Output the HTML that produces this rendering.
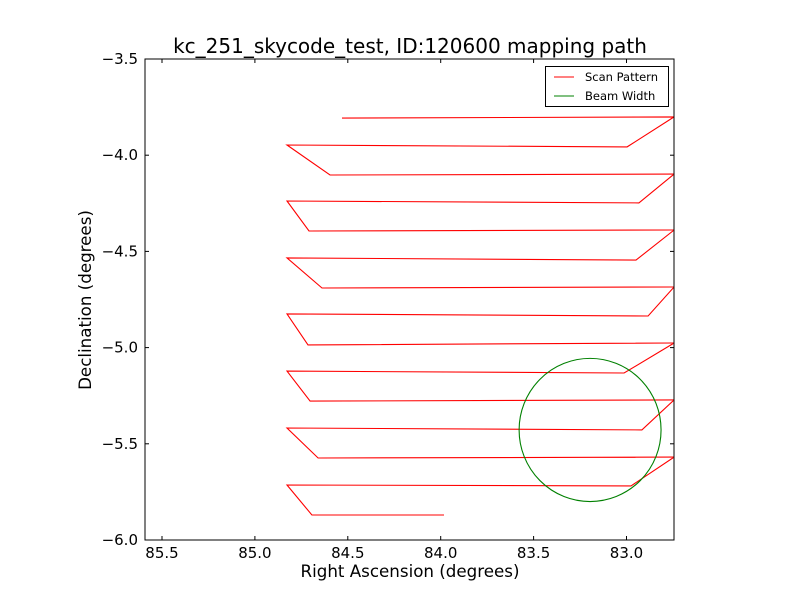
<!DOCTYPE html>
<html><head><meta charset="utf-8"><style>
body{margin:0;background:#fff;}
svg text{font-family:"DejaVu Sans","Liberation Sans",sans-serif;}
</style></head><body>
<svg id="chart" width="800" height="600" xmlns="http://www.w3.org/2000/svg">
<rect width="800" height="600" fill="#fff"/>
<text x="410" y="53" font-size="20" text-anchor="middle">kc_251_skycode_test, ID:120600 mapping path</text>
<text x="410" y="577" font-size="16.7" text-anchor="middle">Right Ascension (degrees)</text>
<text transform="translate(91,300) rotate(-90)" font-size="16.7" text-anchor="middle">Declination (degrees)</text>
<g id="plot"></g>
<rect x="145" y="59" width="529" height="481" fill="none" stroke="#000" stroke-width="1"/>
<g>
<rect x="545.5" y="66.5" width="123" height="40" fill="#fff" stroke="#000"/>
<line x1="554" y1="77" x2="574" y2="77" stroke="red"/>
<text x="585" y="81" font-size="11.5">Scan Pattern</text>
<line x1="554" y1="96" x2="574" y2="96" stroke="green"/>
<text x="585" y="100" font-size="11.5">Beam Width</text>
</g>
</svg>
<script>
const xTicks=[85.5,85.0,84.5,84.0,83.5,83.0];
const xTickLabels=["85.5","85.0","84.5","84.0","83.5","83.0"];
const yTicks=[-3.5,-4.0,-4.5,-5.0,-5.5,-6.0];
const yTickLabels=["\u22123.5","\u22124.0","\u22124.5","\u22125.0","\u22125.5","\u22126.0"];
const scanRA=[84.531,82.744,82.997,84.827,84.596,82.744,82.933,84.827,84.709,82.744,82.949,84.827,84.639,82.744,82.884,84.827,84.714,82.744,83.013,84.827,84.703,82.744,82.917,84.827,84.660,82.744,82.976,84.827,84.693,83.982];
const scanDec=[-3.807,-3.801,-3.957,-3.947,-4.103,-4.098,-4.248,-4.238,-4.394,-4.389,-4.545,-4.534,-4.690,-4.685,-4.836,-4.825,-4.986,-4.976,-5.132,-5.122,-5.278,-5.272,-5.428,-5.418,-5.574,-5.569,-5.719,-5.714,-5.870,-5.870];
const beamCenter=[83.196,-5.428];
const beamRadius=[0.382,0.372];
const NS="http://www.w3.org/2000/svg";
const xS=ra=>162+(85.5-ra)*185.8;
const yS=d=>59+(-3.5-d)*192.4;
const svg=document.getElementById('chart');
const plot=document.getElementById('plot');
function mk(tag,attrs,parent){const e=document.createElementNS(NS,tag);for(const k in attrs)e.setAttribute(k,attrs[k]);(parent||svg).appendChild(e);return e;}
const clip=mk('clipPath',{id:'cp'});mk('rect',{x:145,y:59,width:529,height:481},clip);
plot.setAttribute('clip-path','url(#cp)');
let d='';scanRA.forEach((r,i)=>{d+=(i?'L':'M')+xS(r).toFixed(1)+' '+yS(scanDec[i]).toFixed(1);});
const path=mk('path',{d:d,fill:'none',stroke:'red','stroke-width':1.1},plot);


const cx=xS(beamCenter[0]),cy=yS(beamCenter[1]);
const rx=xS(beamCenter[0]-beamRadius[0])-cx,ry=yS(beamCenter[1]-beamRadius[1])-cy;
const el=mk('ellipse',{cx:cx,cy:cy,rx:rx,ry:ry,fill:'none',stroke:'green','stroke-width':1.1},plot);


xTicks.forEach((t,i)=>{const x=xS(t);
 const a=mk('line',{x1:x,y1:540,x2:x,y2:536,stroke:'#000'});
 
 
 const b=mk('line',{x1:x,y1:59,x2:x,y2:63,stroke:'#000'});
 
 
 const tx=mk('text',{x:x,y:558,'font-size':15,'text-anchor':'middle'});tx.textContent=xTickLabels[i];
 
 
});
yTicks.forEach((t,i)=>{const y=yS(t);
 const a=mk('line',{x1:145,y1:y,x2:149,y2:y,stroke:'#000'});
 
 
 const b=mk('line',{x1:674,y1:y,x2:670,y2:y,stroke:'#000'});
 
 
 const tx=mk('text',{x:138,y:y+5,'font-size':15,'text-anchor':'end'});tx.textContent=yTickLabels[i];
 
 
});
</script>
</body></html>
